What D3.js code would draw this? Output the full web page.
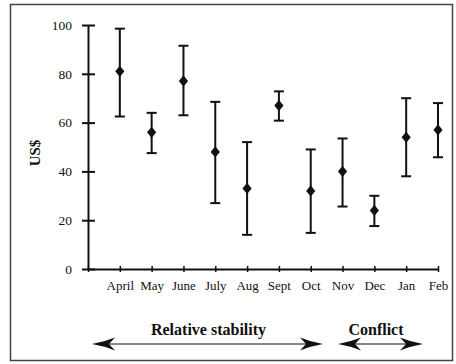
<!DOCTYPE html>
<html>
<head>
<meta charset="utf-8">
<script src="https://cdn.jsdelivr.net/npm/d3@7"></script>
<style>
  html, body { margin: 0; padding: 0; background: #fff; }
  svg { display: block; }
  svg text { font-family: "Liberation Serif", "Times New Roman", serif; }
</style>
</head>
<body>
<svg id="chart" width="456" height="364"></svg>
<script>
// Monthly prices (US$): mean with low/high range
const months = ["April", "May", "June", "July", "Aug", "Sept", "Oct", "Nov", "Dec", "Jan", "Feb"];
const means  = [81, 56, 77, 48, 33, 67, 32, 40, 24, 54, 57];
const lows   = [62.5, 47.5, 63, 27, 14, 60.8, 14.8, 25.6, 17.6, 38, 45.8];
const highs  = [98.5, 64, 91.5, 68.5, 52, 72.8, 49, 53.5, 30, 70, 68];
const yTicks = [0, 20, 40, 60, 80, 100];

// Period bands along the bottom
const periods = [
  { label: "Relative stability", from: "April", to: "Oct" },
  { label: "Conflict", from: "Nov", to: "Feb" }
];

const FONT = '"Liberation Serif", "Times New Roman", serif';
const svg = d3.select("#chart");
const ink = "#111";

// outer frame
svg.append("rect")
  .attr("x", 10.5).attr("y", 4.5)
  .attr("width", 442).attr("height", 356)
  .attr("fill", "none").attr("stroke", "#444").attr("stroke-width", 1.5);

// x: a point scale with a leading blank slot at the y axis
const x = d3.scalePoint()
  .domain([""].concat(months))
  .range([88, 438]);

const y = d3.scaleLinear().domain([0, 100]).range([269, 25]);

// y axis
const yAxis = svg.append("g")
  .attr("transform", "translate(88,0)")
  .call(d3.axisLeft(y).tickValues(yTicks).tickSize(0).tickPadding(16))
  .attr("font-family", FONT)
  .attr("font-size", 13.5);
yAxis.select(".domain").attr("stroke", ink).attr("stroke-width", 2);
yAxis.selectAll("text").attr("fill", ink);
yAxis.selectAll(".tick").append("line")
  .attr("x1", -6).attr("x2", 7)
  .attr("stroke", ink).attr("stroke-width", 2);

// x axis
const xAxis = svg.append("g")
  .attr("transform", "translate(0,269)")
  .call(d3.axisBottom(x).tickSize(0).tickPadding(12))
  .attr("font-family", FONT)
  .attr("font-size", 13);
xAxis.select(".domain").attr("stroke", ink).attr("stroke-width", 2);
xAxis.selectAll("text").attr("fill", ink);
xAxis.selectAll(".tick").append("line")
  .attr("y1", -3).attr("y2", 3)
  .attr("stroke", ink).attr("stroke-width", 1.5);

// y axis title
svg.append("text")
  .attr("transform", "translate(40,153) rotate(-90)")
  .attr("text-anchor", "middle")
  .attr("font-family", FONT)
  .attr("font-size", 15)
  .attr("font-weight", "bold")
  .attr("fill", ink)
  .text("US$");

// a slightly tall diamond marker
const tallDiamond = {
  draw(ctx, size) {
    const h = Math.sqrt(size / 2) * 1.1, w = Math.sqrt(size / 2) * 0.9;
    ctx.moveTo(0, -h); ctx.lineTo(w, 0); ctx.lineTo(0, h); ctx.lineTo(-w, 0); ctx.closePath();
  }
};

// error bars + diamonds
const rows = months.map((m, i) => ({ m, mean: means[i], lo: lows[i], hi: highs[i] }));
const bars = svg.append("g").selectAll("g").data(rows).join("g")
  .attr("transform", d => `translate(${x(d.m)},0)`);

bars.append("line")
  .attr("y1", d => y(d.lo)).attr("y2", d => y(d.hi))
  .attr("stroke", ink).attr("stroke-width", 2);
bars.append("line")
  .attr("x1", -5).attr("x2", 5)
  .attr("y1", d => y(d.hi)).attr("y2", d => y(d.hi))
  .attr("stroke", ink).attr("stroke-width", 2);
bars.append("line")
  .attr("x1", -5).attr("x2", 5)
  .attr("y1", d => y(d.lo)).attr("y2", d => y(d.lo))
  .attr("stroke", ink).attr("stroke-width", 2);
bars.append("path")
  .attr("d", d3.symbol().type(tallDiamond).size(52))
  .attr("transform", d => `translate(0,${y(d.mean)})`)
  .attr("fill", ink);

// period arrows with labels
const arrowY = 344;
function arrowHead(tipX, dir) {
  // dir = -1 points left, +1 points right
  const L = 23, H = 6.5, notch = 6;
  const bx = tipX - dir * L;
  return `M${tipX},${arrowY} Q${tipX - dir * 12},${arrowY - 2} ${bx},${arrowY - H} L${bx + dir * notch},${arrowY} L${bx},${arrowY + H} Q${tipX - dir * 12},${arrowY + 2} ${tipX},${arrowY} Z`;
}
const layout = {
  "Relative stability": { ends: [92, 323], shift: 1 },
  "Conflict": { ends: [338, 423], shift: -4.5 }
};
periods.forEach(p => {
  const { ends: [x0, x1], shift } = layout[p.label];
  svg.append("line")
    .attr("x1", x0 + 10).attr("x2", x1 - 10)
    .attr("y1", arrowY).attr("y2", arrowY)
    .attr("stroke", ink).attr("stroke-width", 1.2);
  svg.append("path").attr("d", arrowHead(x0, -1)).attr("fill", ink);
  svg.append("path").attr("d", arrowHead(x1, 1)).attr("fill", ink);
  svg.append("text")
    .attr("x", (x0 + x1) / 2 + shift)
    .attr("y", 335)
    .attr("text-anchor", "middle")
    .attr("font-family", FONT)
    .attr("font-size", 16)
    .attr("font-weight", "bold")
    .attr("fill", ink)
    .text(p.label);
});
</script>
</body>
</html>
